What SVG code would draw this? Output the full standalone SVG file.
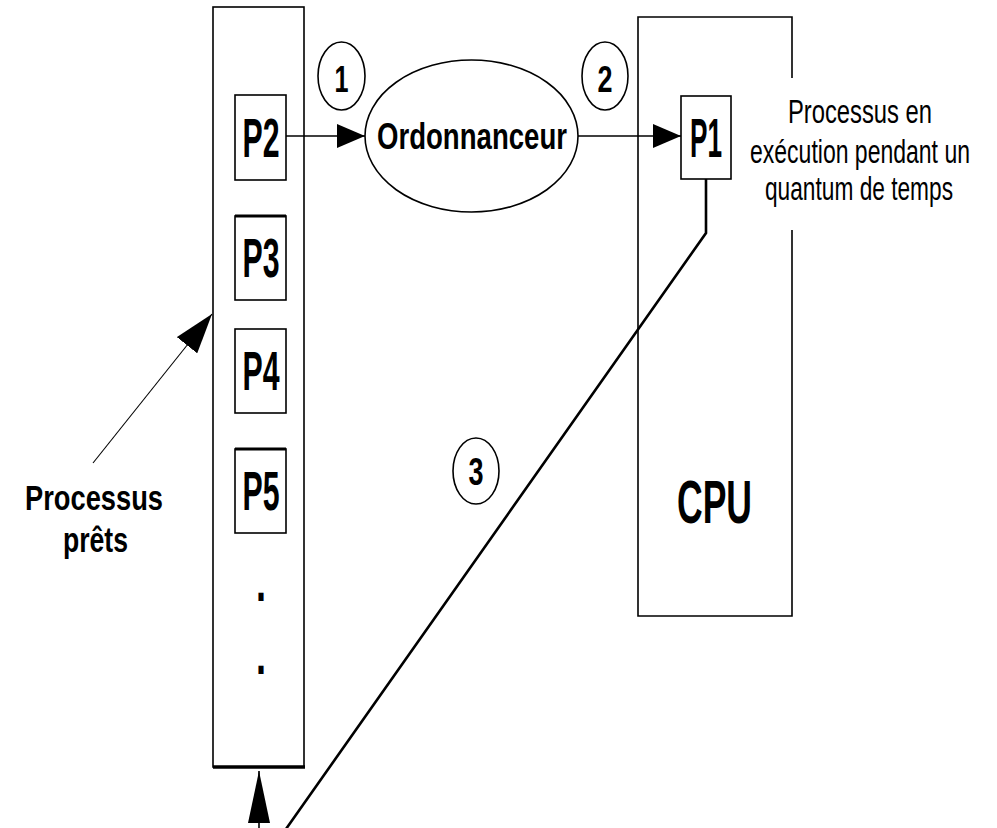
<svg xmlns="http://www.w3.org/2000/svg" width="997" height="828" viewBox="0 0 997 828">
<style>
  .t { font-family: "Liberation Sans", Arial, sans-serif; fill: #000; text-anchor: middle; }
  .b { font-weight: bold; }
  .box { fill: #fff; stroke: #000; stroke-width: 1.6; }
  .line { fill: none; stroke: #000; stroke-width: 1.6; }
  .thick { fill: none; stroke: #000; stroke-width: 2.6; }
</style>
<defs>
  <marker id="ah" markerUnits="userSpaceOnUse" markerWidth="28" markerHeight="24" refX="28" refY="12" orient="auto">
    <path d="M0,0 L28,12 L0,24 z" fill="#000"/>
  </marker>
  <marker id="ahLong" markerUnits="userSpaceOnUse" markerWidth="52" markerHeight="22" refX="52" refY="11" orient="auto">
    <path d="M0,0 L52,11 L0,22 z" fill="#000"/>
  </marker>
  <marker id="ahDiag" markerUnits="userSpaceOnUse" markerWidth="40" markerHeight="26" refX="40" refY="13" orient="auto">
    <path d="M0,0 L40,13 L0,26 z" fill="#000"/>
  </marker>
</defs>
<rect width="997" height="828" fill="#fff"/>

<g id="file-attente">
  <rect class="box" x="213" y="7" width="91" height="760"/>
  <line x1="213" y1="767" x2="305" y2="767" stroke="#000" stroke-width="3.5"/>
  <text class="t b" x="261" y="601" font-size="55" textLength="10" lengthAdjust="spacingAndGlyphs">.</text>
  <text class="t b" x="261" y="674" font-size="55" textLength="10" lengthAdjust="spacingAndGlyphs">.</text>
</g>

<g id="P2">
  <rect class="box" x="235" y="95" width="51" height="85"/>
  <text class="t b" x="261" y="157" font-size="55" textLength="37" lengthAdjust="spacingAndGlyphs">P2</text>
</g>
<g id="P3">
  <rect class="box" x="235" y="216" width="51" height="84"/>
  <line x1="235" y1="216" x2="286" y2="216" stroke="#000" stroke-width="3"/>
  <text class="t b" x="261" y="277" font-size="55" textLength="37" lengthAdjust="spacingAndGlyphs">P3</text>
</g>
<g id="P4">
  <rect class="box" x="235" y="329" width="51" height="84"/>
  <text class="t b" x="261" y="390" font-size="55" textLength="37" lengthAdjust="spacingAndGlyphs">P4</text>
</g>
<g id="P5">
  <rect class="box" x="235" y="449" width="51" height="84"/>
  <line x1="235" y1="449" x2="286" y2="449" stroke="#000" stroke-width="3"/>
  <text class="t b" x="261" y="510" font-size="55" textLength="37" lengthAdjust="spacingAndGlyphs">P5</text>
</g>

<g id="ordonnanceur">
  <ellipse class="box" cx="471.5" cy="136" rx="106.5" ry="76"/>
  <text class="t b" x="472" y="149" font-size="36" textLength="190" lengthAdjust="spacingAndGlyphs">Ordonnanceur</text>
</g>

<g id="cpu">
  <path class="line" d="M792,78 V17 H638 V616 H792 V230"/>
  <text class="t b" x="714.5" y="523" font-size="62" textLength="75" lengthAdjust="spacingAndGlyphs">CPU</text>
</g>

<g id="P1">
  <rect class="box" x="681" y="96" width="50" height="83"/>
  <text class="t b" x="706" y="157" font-size="55" textLength="32" lengthAdjust="spacingAndGlyphs">P1</text>
</g>

<g id="label-execution">
  <text class="t" x="860" y="123" font-size="33" textLength="144" lengthAdjust="spacingAndGlyphs">Processus en</text>
  <text class="t" x="860" y="163" font-size="33" textLength="220" lengthAdjust="spacingAndGlyphs">exécution pendant un</text>
  <text class="t" x="859" y="200" font-size="33" textLength="188" lengthAdjust="spacingAndGlyphs">quantum de temps</text>
</g>

<g id="label-prets">
  <text class="t b" x="94" y="510" font-size="35" textLength="138" lengthAdjust="spacingAndGlyphs">Processus</text>
  <text class="t b" x="95.5" y="552" font-size="35" textLength="65" lengthAdjust="spacingAndGlyphs">prêts</text>
</g>

<g id="step1">
  <ellipse class="box" cx="341.5" cy="76" rx="23.5" ry="34" stroke-width="1.4"/>
  <text class="t b" x="341.5" y="92" font-size="37" textLength="14" lengthAdjust="spacingAndGlyphs">1</text>
</g>
<g id="step2">
  <ellipse class="box" cx="605" cy="76" rx="23" ry="34" stroke-width="1.4"/>
  <text class="t b" x="605" y="92" font-size="37" textLength="15" lengthAdjust="spacingAndGlyphs">2</text>
</g>
<g id="step3">
  <ellipse class="box" cx="476" cy="471" rx="23" ry="33" stroke-width="1.4"/>
  <text class="t b" x="476" y="485" font-size="38" textLength="15" lengthAdjust="spacingAndGlyphs">3</text>
</g>

<g id="connectors">
  <line class="line" x1="286" y1="136" x2="365" y2="136" marker-end="url(#ah)"/>
  <line class="line" x1="578" y1="136" x2="681" y2="136" marker-end="url(#ah)"/>
  <path class="thick" d="M706,179 V233 L286,829"/>
  <line class="line" x1="259" y1="828" x2="259" y2="771" marker-end="url(#ahLong)"/>
  <line x1="93" y1="463" x2="212" y2="314" stroke="#000" stroke-width="1.1" marker-end="url(#ahDiag)"/>
</g>
</svg>
